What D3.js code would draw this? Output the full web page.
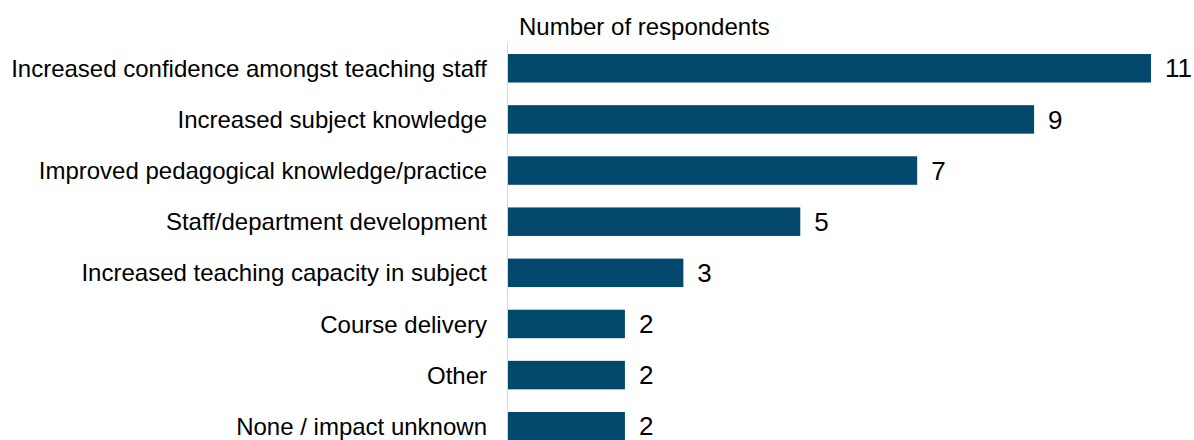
<!DOCTYPE html>
<html><head><meta charset="utf-8">
<script src="https://cdn.jsdelivr.net/npm/d3@7"></script>
<style>body{margin:0;background:#fff}svg{display:block}text{font-family:"Liberation Sans",Arial,sans-serif;fill:#000}</style>
</head><body><svg id="c" width="1194" height="440"></svg>
<script>
const categories = ["Increased confidence amongst teaching staff","Increased subject knowledge","Improved pedagogical knowledge/practice","Staff/department development","Increased teaching capacity in subject","Course delivery","Other ","None / impact unknown"];
const values = [11,9,7,5,3,2,2,2];
const axisTitle = "Number of respondents";

const svg = d3.select("#c");
const x0 = 508;
const x = d3.scaleLinear().domain([0,11]).range([x0,1151]);
const y = d3.scaleBand().domain(categories).range([42.7,451.8]).paddingInner(0.443).paddingOuter(0.2215);

svg.append("line").attr("x1",x0-0.5).attr("x2",x0-0.5).attr("y1",43).attr("y2",440).attr("stroke","#d9d9d9").attr("stroke-width",1);

svg.selectAll("rect.bar").data(values).join("rect").attr("class","bar")
  .attr("x",x(0)).attr("y",(d,i)=>y(categories[i])).attr("width",d=>x(d)-x(0)).attr("height",y.bandwidth())
  .attr("fill","#02476c");

svg.selectAll("text.val").data(values).join("text").attr("class","val")
  .attr("x",d=>x(d)+14).attr("y",(d,i)=>y(categories[i])+y.bandwidth()/2).attr("dy","0.35em")
  .attr("font-size",26).text(d=>d);

svg.selectAll("text.cat").data(categories).join("text").attr("class","cat")
  .attr("x",487).attr("y",d=>y(d)+y.bandwidth()/2).attr("dy","0.36em").attr("text-anchor","end")
  .attr("font-size",24).text(d=>d);

svg.append("text").attr("x",519).attr("y",35).attr("font-size",24).text(axisTitle);
</script></body></html>
